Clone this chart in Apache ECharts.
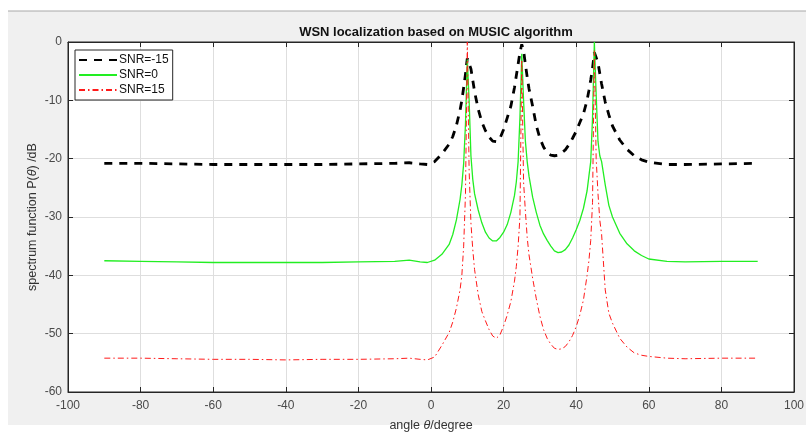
<!DOCTYPE html>
<html>
<head>
<meta charset="utf-8">
<script src="https://cdn.jsdelivr.net/npm/echarts@6/dist/echarts.min.js"></script>
<style>
html,body{margin:0;padding:0;background:#fff;}
#c{width:806px;height:434px;}
</style>
</head>
<body>
<div id="c"></div>
<script>
var angles = [-90,-80,-70,-60,-50,-40,-30,-20,-10,-6,-3,-1,1,3,5,6,7,8,8.5,9,9.5,10,10.5,11,11.5,12,13,14,15,16,17,18,19,20,21,22,23,23.5,24,24.5,25,25.5,26,26.5,27,28,29,30,31,32,33,34,35,36,37,38,39,40,41,42,43,43.5,44,44.5,45,45.5,46,46.5,47,48,49,50,52,54,56,58,60,65,70,80,90];

var snrM15 = [-20.8,-20.8,-20.9,-21.0,-21.0,-21.0,-21.0,-20.9,-20.8,-20.7,-20.9,-21.0,-20.5,-19.2,-17.5,-16.2,-14.3,-11.7,-10.0,-7.8,-5.5,-2.8,-2.8,-4.6,-6.5,-8.5,-11.5,-13.7,-15.2,-16.3,-17.0,-17.1,-16.5,-15.0,-13.0,-11.0,-7.8,-5.8,-3.8,-1.8,-0.4,-1.5,-3.8,-6.0,-8.0,-11.0,-14.3,-16.5,-18.0,-19.0,-19.4,-19.5,-19.4,-19.0,-18.5,-17.6,-16.5,-15.3,-13.8,-12.3,-10.0,-8.3,-6.5,-4.5,-1.8,-1.6,-3.5,-5.4,-7.2,-10.3,-12.5,-14.4,-16.8,-18.4,-19.5,-20.2,-20.6,-21.0,-21.0,-20.9,-20.8];

var snr0 = [-37.5,-37.6,-37.7,-37.8,-37.8,-37.8,-37.8,-37.7,-37.6,-37.4,-37.7,-37.8,-37.4,-36.4,-34.7,-33.0,-30.5,-27.0,-24.5,-20.8,-14.0,-3.0,-10.0,-19.5,-23.5,-26.0,-28.8,-31.0,-32.6,-33.6,-34.1,-34.1,-33.5,-32.6,-31.3,-29.2,-26.3,-24.0,-20.5,-13.0,-2.0,-10.0,-17.0,-20.5,-23.0,-26.6,-29.2,-31.4,-32.9,-34.0,-35.0,-35.8,-36.1,-36.0,-35.6,-34.8,-33.6,-32.2,-30.6,-28.5,-25.5,-23.0,-20.5,-13.0,0.0,-9.0,-17.0,-19.5,-20.5,-24.5,-28.0,-30.0,-32.8,-34.6,-35.8,-36.6,-37.2,-37.6,-37.7,-37.6,-37.6];

var snr15 = [-54.2,-54.2,-54.3,-54.4,-54.4,-54.5,-54.4,-54.4,-54.3,-54.2,-54.4,-54.5,-54.0,-52.0,-49.8,-48.0,-45.6,-42.5,-40.0,-35.0,-26.0,0.0,-22.0,-31.0,-35.5,-39.0,-43.3,-46.2,-47.8,-49.3,-50.4,-50.8,-50.2,-48.7,-46.8,-44.5,-41.0,-38.5,-35.0,-30.0,-3.0,-24.0,-29.0,-33.5,-36.5,-40.5,-44.0,-47.0,-49.3,-50.8,-51.8,-52.5,-52.7,-52.6,-52.2,-51.4,-50.3,-48.8,-46.8,-44.2,-40.0,-37.5,-34.0,-27.5,-1.5,-20.0,-26.0,-30.5,-33.0,-42.5,-46.5,-48.2,-50.8,-52.3,-53.3,-53.7,-53.9,-54.2,-54.3,-54.2,-54.2];

var xTicks = [-100,-80,-60,-40,-20,0,20,40,60,80,100];
var yTicks = [-60,-50,-40,-30,-20,-10,0];
var seriesNames = ['SNR=-15','SNR=0','SNR=15'];

function pairs(ys){ return angles.map(function(a,i){ return [a, ys[i]]; }); }

var chart = echarts.init(document.getElementById('c'), null, {renderer:'canvas'});
var font = 'Liberation Sans, Arial, Helvetica, sans-serif';
var labelColor = '#4a4a4a';
var axisColor = '#262626';

chart.setOption({
  animation:false,
  backgroundColor:'#ffffff',
  textStyle:{fontFamily:font},
  graphic:[
    {type:'rect', z:-10, shape:{x:8,y:11,width:798,height:414}, style:{fill:'#f0f0f0'}},
    {type:'line', z:-9, shape:{x1:8,y1:11,x2:806,y2:11}, style:{stroke:'#a8a8a8',lineWidth:1}}
  ],
  title:{
    text:'WSN localization based on MUSIC algorithm',
    left:431, top:21, textAlign:'center',
    textStyle:{fontFamily:font,fontSize:13,fontWeight:'bold',color:'#111'}
  },
  legend:{
    orient:'vertical', left:75, top:50,
    data:seriesNames,
    itemWidth:38, itemHeight:12, itemGap:3,
    padding:[4,4,4,3],
    itemStyle:{opacity:0},
    backgroundColor:'#fff', borderColor:'#262626', borderWidth:1, borderRadius:0,
    textStyle:{fontFamily:font,fontSize:12,color:'#111',padding:[0,0,0,-3]}
  },
  grid:{left:68, top:42, width:726, height:350, show:true, backgroundColor:'#fff', borderColor:axisColor, borderWidth:1, containLabel:false, outerBoundsMode:'none'},
  xAxis:[{
    type:'value', min:xTicks[0], max:xTicks[xTicks.length-1], interval:20,
    axisLine:{show:true,onZero:false,lineStyle:{color:axisColor}},
    axisTick:{show:true,inside:true,length:5,lineStyle:{color:axisColor}},
    axisLabel:{margin:8,color:labelColor,fontSize:12,fontFamily:font},
    splitLine:{show:true,lineStyle:{color:'#dedede'}},
    name:'angle {i|θ}/degree', nameLocation:'middle', nameGap:27, nameMoveOverlap:false,
    nameTextStyle:{fontFamily:font,fontSize:12.5,color:'#333',rich:{i:{fontStyle:'italic',fontFamily:font,fontSize:12.5,color:'#333'}}}
  },{
    type:'value', position:'top', min:xTicks[0], max:xTicks[xTicks.length-1], interval:20,
    axisLine:{show:true,onZero:false,lineStyle:{color:axisColor}},
    axisTick:{show:true,inside:true,length:5,lineStyle:{color:axisColor}},
    axisLabel:{show:false}, splitLine:{show:false}
  }],
  yAxis:[{
    type:'value', min:yTicks[0], max:yTicks[yTicks.length-1], interval:10,
    axisLine:{show:true,onZero:false,lineStyle:{color:axisColor}},
    axisTick:{show:true,inside:true,length:5,lineStyle:{color:axisColor}},
    axisLabel:{margin:6,color:labelColor,fontSize:12,fontFamily:font},
    splitLine:{show:true,lineStyle:{color:'#dedede'}},
    name:'spectrum function P({i|θ}) /dB', nameLocation:'middle', nameGap:35, nameRotate:90, nameMoveOverlap:false,
    nameTextStyle:{fontFamily:font,fontSize:12.5,color:'#333',verticalAlign:'middle',rich:{i:{fontStyle:'italic',fontFamily:font,fontSize:12.5,color:'#333'}}}
  },{
    type:'value', position:'right', min:yTicks[0], max:yTicks[yTicks.length-1], interval:10,
    axisLine:{show:true,onZero:false,lineStyle:{color:axisColor}},
    axisTick:{show:true,inside:true,length:5,lineStyle:{color:axisColor}},
    axisLabel:{show:false}, splitLine:{show:false}
  }],
  series:[
    {name:seriesNames[0], type:'line', data:pairs(snrM15), symbol:'none', z:3,
     lineStyle:{color:'#000',width:2.8,type:[8,7]}, itemStyle:{color:'#000'}},
    {name:seriesNames[1], type:'line', data:pairs(snr0), symbol:'none', z:4,
     lineStyle:{color:'#22ee22',width:1.3,type:'solid'}, itemStyle:{color:'#22ee22'}},
    {name:seriesNames[2], type:'line', data:pairs(snr15), symbol:'none', z:5,
     lineStyle:{color:'#ff1a1a',width:1,type:[6,3,1.5,3]}, itemStyle:{color:'#ff1a1a'}}
  ]
});
</script>
</body>
</html>
